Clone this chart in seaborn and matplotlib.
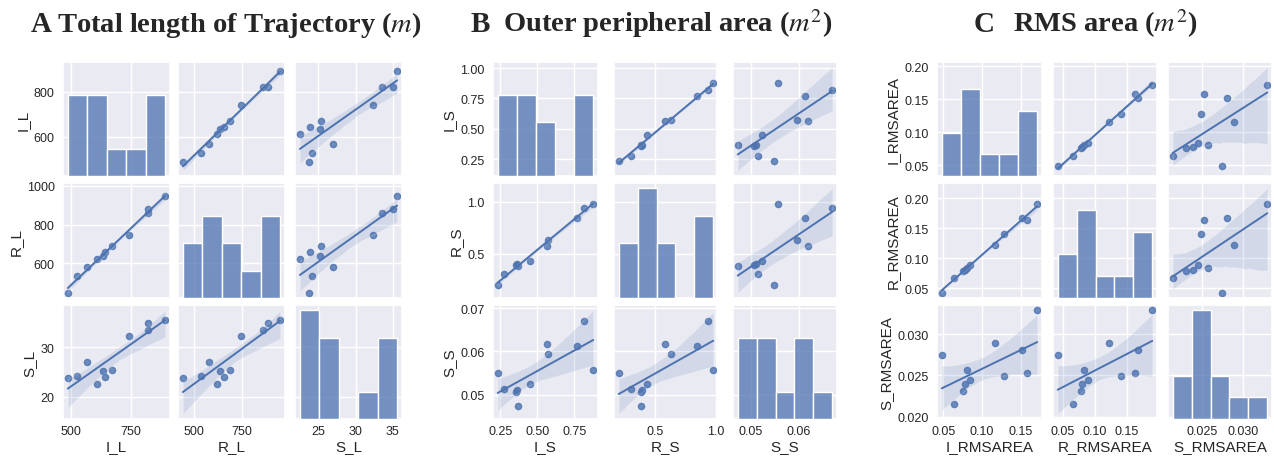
import matplotlib
matplotlib.use("Agg")

import matplotlib.pyplot as plt
import pandas as pd
import seaborn as sns
from matplotlib.ticker import MultipleLocator

# A - total length of trajectory (m)
I_L = [489, 527, 567, 610, 634, 644, 671, 742, 822, 822, 893]
R_L = [445, 537, 581, 620, 635, 658, 690, 747, 858, 882, 947]
S_L = [23.7, 24.2, 27.0, 22.5, 25.2, 23.9, 25.4, 32.3, 33.6, 35.0, 35.6]

# B - outer peripheral area (m^2)
I_S = [0.233, 0.276, 0.355, 0.365, 0.371, 0.448, 0.566, 0.572, 0.767, 0.816, 0.879]
R_S = [0.208, 0.305, 0.392, 0.400, 0.388, 0.435, 0.581, 0.636, 0.847, 0.938, 0.977]
S_S = [0.0549, 0.0514, 0.0507, 0.0510, 0.0473, 0.0524, 0.0618, 0.0595, 0.0613, 0.0669, 0.0557]

# C - RMS area (m^2)
I_RMSAREA = [0.048, 0.064, 0.0755, 0.078, 0.080, 0.084, 0.116, 0.128, 0.152, 0.158, 0.171]
R_RMSAREA = [0.0425, 0.0667, 0.079, 0.081, 0.084, 0.089, 0.122, 0.141, 0.167, 0.163, 0.190]
S_RMSAREA = [0.0275, 0.0215, 0.0231, 0.0239, 0.0257, 0.0245, 0.0289, 0.0249, 0.0281, 0.0253, 0.0329]

PANEL_LETTERS = ['A', 'B', 'C']
PANEL_TITLES = ['Total length of Trajectory ($m$)',
                'Outer peripheral area ($m^2$)',
                'RMS area ($m^2$)']

W, H = 1274, 460


def draw_pairs(fig, df, cols_px, rows_px, x_steps, y_steps, y_limits=None):
    names = list(df.columns)
    n = len(names)
    axes = [[None] * n for _ in range(n)]

    for i in range(n):
        for j in range(n):
            left, right = cols_px[j]
            top, bottom = rows_px[i]
            ax = fig.add_axes([left / W, 1 - bottom / H, (right - left) / W, (bottom - top) / H],
                              sharex=axes[0][j] if i > 0 else None,
                              sharey=axes[i][0] if j > 0 else None)
            axes[i][j] = ax

    diag_axes = []
    for i in range(n):
        for j in range(n):
            ax = axes[i][j]
            if i == j:
                tw = ax.twinx()
                if diag_axes:
                    tw.sharey(diag_axes[0])
                sns.histplot(x=df[names[i]], ax=tw, bins=5)
                tw.set_axis_off()
                diag_axes.append(tw)
            else:
                sns.regplot(x=df[names[j]], y=df[names[i]], ax=ax, seed=0,
                            scatter_kws={'s': 20}, line_kws={'lw': 1.4})

            ax.xaxis.set_major_locator(MultipleLocator(x_steps[j]))
            ax.yaxis.set_major_locator(MultipleLocator(y_steps[i]))
            ax.set_xlabel(names[j] if i == n - 1 else '', labelpad=2)
            ax.set_ylabel(names[i] if j == 0 else '', labelpad=3)
            ax.tick_params(left=False, right=False, bottom=False,
                           labelbottom=(i == n - 1), labelleft=(j == 0))
            ax.tick_params(axis='x', pad=4)
            ax.tick_params(axis='y', pad=6)

    if y_limits:
        for name, lims in y_limits.items():
            axes[names.index(name)][0].set_ylim(*lims)

    return axes


def main():
    sns.set_theme(style='darkgrid')
    plt.rcParams['font.family'] = ['Liberation Sans', 'DejaVu Sans']
    plt.rcParams['xtick.labelsize'] = 9
    plt.rcParams['ytick.labelsize'] = 9
    plt.rcParams['xtick.major.size'] = 0
    plt.rcParams['ytick.major.size'] = 0
    plt.rcParams['axes.labelsize'] = 11
    plt.rcParams['mathtext.fontset'] = 'stix'

    fig = plt.figure(figsize=(W / 100, H / 100), dpi=100)

    rows_px = [(63, 177), (184, 299), (306, 420)]

    df_a = pd.DataFrame({'I_L': I_L, 'R_L': R_L, 'S_L': S_L})
    draw_pairs(fig, df_a, [(63, 170), (178, 285), (295, 402)], rows_px,
               [250, 250, 5], [200, 200, 10], y_limits={'R_L': (421, 1014)})

    df_b = pd.DataFrame({'I_S': I_S, 'R_S': R_S, 'S_S': S_S})
    draw_pairs(fig, df_b, [(493, 598), (614, 718), (733, 837)], rows_px,
               [0.25, 0.5, 0.01], [0.25, 0.5, 0.01])

    df_c = pd.DataFrame({'I_RMSAREA': I_RMSAREA, 'R_RMSAREA': R_RMSAREA,
                         'S_RMSAREA': S_RMSAREA})
    draw_pairs(fig, df_c, [(937, 1042), (1053, 1157), (1168, 1272)], rows_px,
               [0.05, 0.05, 0.005], [0.05, 0.05, 0.005])

    letter_x = [31, 471, 974]
    title_x = [57, 503, 1013]
    for letter, title, lx, tx in zip(PANEL_LETTERS, PANEL_TITLES, letter_x, title_x):
        fig.text(lx / W, 1 - 32 / H, letter, ha='left', va='baseline',
                 family='Liberation Serif', weight='bold', size=21)
        fig.text(tx / W, 1 - 32 / H, title, ha='left', va='baseline',
                 family='Liberation Serif', weight='bold', size=20.5)

    fig.savefig('out.png', dpi=100, facecolor='white')
    plt.close(fig)


if __name__ == '__main__':
    main()
